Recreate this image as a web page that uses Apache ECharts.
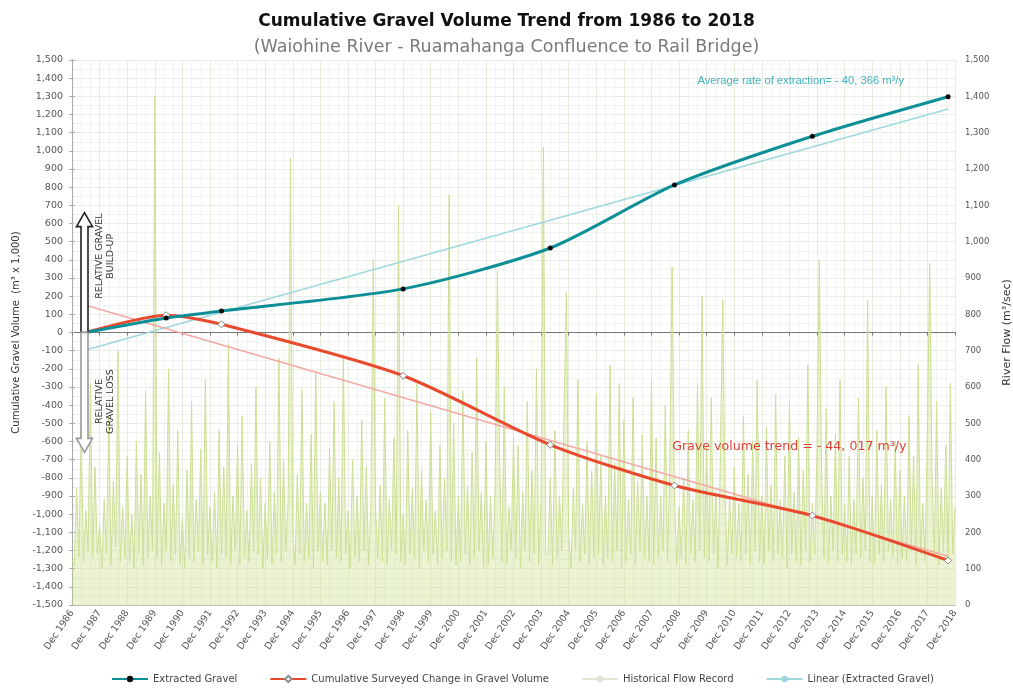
<!DOCTYPE html>
<html><head><meta charset="utf-8">
<script src="https://cdn.jsdelivr.net/npm/echarts@6/dist/echarts.min.js"></script>
<style>html,body{margin:0;padding:0;background:#fff}#c{width:1013px;height:690px}</style>
</head><body><div id="c"></div>
<script>
// ---- data ----
const surveyDates = ['1987-06','1990-05','1992-05','1998-12','2004-04','2008-10','2013-10','2018-09'];
const extractedGravel = [0, 80, 118, 240, 465, 812, 1080, 1298];
const surveyedChange = [0, 95, 45, -238, -618, -842, -1008, -1255];
const extractedTrend = [-96, 1230];
const surveyedTrend = [150, -1232];
// monthly flow (m3/sec), Dec 1986 .. Dec 2018
const flowRecord = [120,
 110,320,130,480,120,260,150,610,130,380,140,220,
 100,290,140,520,110,340,160,700,120,270,130,410,
 120,250,100,450,140,360,110,590,130,300,150,1400,
 130,420,110,280,150,650,120,330,140,480,110,240,
 100,370,130,560,120,290,150,430,110,620,140,270,
 120,310,100,480,140,380,130,720,110,300,150,440,
 110,520,130,260,120,390,150,600,140,350,100,280,
 130,450,110,310,140,680,120,400,150,290,1230,200,
 110,360,140,590,120,280,130,470,100,640,150,310,
 120,280,110,430,150,560,130,350,120,690,140,260,
 100,400,130,300,120,510,150,380,110,280,950,260,
 130,330,120,570,110,290,150,460,140,1100,120,250,
 110,480,140,320,130,610,100,370,150,290,120,530,
 140,260,110,440,130,350,150,1130,120,500,110,300,
 120,590,140,330,110,420,130,680,150,310,100,450,
 110,300,130,320,920,380,120,600,110,270,150,460,
 130,440,100,310,150,560,120,370,140,650,110,290,
 1260,140,140,350,110,480,130,300,150,540,860,200,
 100,320,150,620,120,280,140,450,110,370,130,580,
 140,410,110,300,130,660,120,390,150,610,100,510,
 120,290,140,570,110,340,150,470,130,300,120,620,
 110,460,130,300,150,550,120,380,930,300,110,270,
 130,350,110,480,140,290,120,610,150,850,130,440,
 120,570,140,310,100,420,840,300,110,300,140,380,
 130,280,120,520,140,360,110,450,150,620,120,300,
 110,490,150,330,120,580,140,290,130,410,100,560,
 140,310,120,460,110,370,150,660,120,280,140,430,
 950,360,130,540,110,300,150,470,120,620,140,280,
 120,410,110,290,140,570,130,350,150,840,120,300,
 110,480,140,330,120,600,150,290,130,450,110,370,
 130,300,120,520,150,410,110,660,140,280,120,490,
 940,350,130,560,110,320,150,440,120,610,140,270
];
// ---- helpers ----
function monthIndex(s){const p=s.split('-');return (Number(p[0])-1986)*12+(Number(p[1])-12);}
const surveyX = surveyDates.map(monthIndex);
const fmt = v => { const a=Math.abs(v); const s=a>=1000? Math.floor(a/1000)+','+String(a%1000).padStart(3,'0') : String(a); return (v<0?'-':'')+s; };
const FONT = '"DejaVu Sans", sans-serif';
const FONT2 = '"Liberation Sans", Arial, sans-serif';

const chart = echarts.init(document.getElementById('c'), null, {renderer:'canvas'});
const option = {
  animation:false,
  backgroundColor:'#fff',
  title:[
    {text:'Cumulative Gravel Volume Trend from 1986 to 2018', left:'center', top:8,
     textStyle:{fontFamily:FONT, fontSize:17, fontWeight:'bold', color:'#111'}},
    {text:'(Waiohine River - Ruamahanga Confluence to Rail Bridge)', left:'center', top:33,
     textStyle:{fontFamily:FONT, fontSize:17.5, fontWeight:'normal', color:'#7a7a7a'}}
  ],
  grid:{left:72, right:58, top:60, bottom:85, containLabel:false, outerBoundsMode:'none'},
  legend:{
    bottom:1, left:106, itemGap:32, itemWidth:36, itemHeight:8,
    textStyle:{fontFamily:FONT, fontSize:10, color:'#444'}
  },
  xAxis:[
    {type:'value', min:0, max:384, interval:12, position:'bottom',
     axisLine:{show:true, onZero:false, lineStyle:{color:'#bbb'}},
     axisTick:{show:false},
     axisLabel:{rotate:56, fontFamily:FONT, fontSize:9.5, color:'#555', margin:6,
       formatter:v=>'Dec '+(1986+v/12)},
     splitLine:{show:true, lineStyle:{color:'#e6ece0', width:1}},
     minorTick:{show:false, splitNumber:3},
     minorSplitLine:{show:true, lineStyle:{color:'#f1f4ee', width:1}}
    },
    {type:'value', min:0, max:384, interval:12, position:'bottom',
     axisLine:{show:true, onZero:true, onZeroAxisIndex:0, lineStyle:{color:'#777', width:1}},
     axisTick:{show:true, inside:false, length:3, lineStyle:{color:'#777'}},
     axisLabel:{show:false}, splitLine:{show:false}
    }
  ],
  yAxis:[
    {type:'value', min:-1500, max:1500, interval:100, position:'left',
     name:'Cumulative Gravel Volume  (m³ x 1,000)', nameLocation:'middle', nameRotate:90, nameGap:51,
     nameTextStyle:{fontFamily:FONT, fontSize:10, color:'#333'},
     axisLine:{show:true, lineStyle:{color:'#aaa'}},
     axisTick:{show:true, length:3, lineStyle:{color:'#aaa'}},
     axisLabel:{fontFamily:FONT, fontSize:9.5, color:'#555', formatter:fmt, margin:9},
     splitLine:{show:true, lineStyle:{color:'#e8ece4'}},
     minorSplitLine:{show:true, lineStyle:{color:'#f1f4ee'}}, minorTick:{show:false, splitNumber:2}
    },
    {type:'value', min:0, max:1500, interval:100, position:'right',
     name:'River Flow (m³/sec)', nameLocation:'middle', nameRotate:90, nameGap:47,
     nameTextStyle:{fontFamily:FONT, fontSize:11, color:'#333'},
     axisLine:{show:true, lineStyle:{color:'#aaa'}},
     axisTick:{show:true, length:3, lineStyle:{color:'#aaa'}},
     minorTick:{show:true, splitNumber:4, length:2, lineStyle:{color:'#bbb'}},
     axisLabel:{fontFamily:FONT, fontSize:8.5, color:'#555', formatter:fmt, margin:10},
     splitLine:{show:false}
    }
  ],
  series:[
    {name:'Historical Flow Record', type:'line', xAxisIndex:0, yAxisIndex:1, symbol:'none', z:1,
     lineStyle:{color:'#cddf95', width:1}, areaStyle:{color:'rgba(200,222,130,0.5)'},
     itemStyle:{color:'#dfe6d2'},
     data:flowRecord.map((v,i)=>[i,v])},
    {name:'Linear (Extracted Gravel)', type:'line', yAxisIndex:0, symbol:'none', z:3,
     lineStyle:{color:'#9fd8dc', width:1.5}, itemStyle:{color:'#9fd8dc'},
     data:[[surveyX[0],extractedTrend[0]],[surveyX[surveyX.length-1],extractedTrend[1]]]},
    {name:'Linear (Surveyed Change)', type:'line', yAxisIndex:0, symbol:'none', z:3,
     lineStyle:{color:'#f2a9a4', width:1.5}, itemStyle:{color:'#f2a9a4'},
     data:[[surveyX[0],surveyedTrend[0]],[surveyX[surveyX.length-1],surveyedTrend[1]]]},
    {name:'Extracted Gravel', type:'line', yAxisIndex:0, smooth:0.25, z:5,
     symbol:'circle', symbolSize:5,
     lineStyle:{color:'#0d8f98', width:3},
     itemStyle:{color:'#0a0a0a', borderColor:'#0a0a0a', borderWidth:0},
     data:surveyX.map((x,i)=>[x,extractedGravel[i]])},
    {name:'Cumulative Surveyed Change in Gravel Volume', type:'line', yAxisIndex:0, smooth:0.25, z:4,
     symbol:'diamond', symbolSize:7,
     lineStyle:{color:'#e94a2e', width:3},
     itemStyle:{color:'#ffffff', borderColor:'#8a8a8a', borderWidth:1},
     data:surveyX.map((x,i)=>[x,surveyedChange[i]])}
  ]
};
option.legend.data = [
  {name:'Extracted Gravel'},
  {name:'Cumulative Surveyed Change in Gravel Volume'},
  {name:'Historical Flow Record', itemStyle:{color:'#dfe6d2'}, lineStyle:{color:'#dfe6d2', width:2}},
  {name:'Linear (Extracted Gravel)'}
];
chart.setOption(option);

// ---- annotations placed through the axes ----
const P = (x,y)=>chart.convertToPixel({xAxisIndex:0,yAxisIndex:0},[x,y]);
const zero = P(5,0), up = P(5,660), dn = P(5,-660);
const cx = zero[0]+1;
function arrow(tip, base, dir, stroke){
  const hw=3.5, hh=8, hl=14;
  const neck = tip[1] + dir*hl;
  return {type:'polygon', z:10, shape:{points:[
    [cx-hw, base[1]],[cx-hw, neck],[cx-hh, neck],[cx, tip[1]],[cx+hh, neck],[cx+hw, neck],[cx+hw, base[1]]]},
    style:{fill:'#fff', stroke:stroke, lineWidth:1.6}};
}
chart.setOption({graphic:[
  arrow(up, zero, 1, '#222'),
  arrow(dn, zero, -1, '#999'),
  {type:'text', z:11, x:cx+21, y:P(0,420)[1], rotation:Math.PI/2,
   style:{text:'RELATIVE GRAVEL\nBUILD-UP', fill:'#333', font:'9.5px '+FONT, align:'center', verticalAlign:'middle', lineHeight:11}},
  {type:'text', z:11, x:cx+21, y:P(0,-380)[1], rotation:Math.PI/2,
   style:{text:'RELATIVE\nGRAVEL LOSS', fill:'#333', font:'9.5px '+FONT, align:'center', verticalAlign:'middle', lineHeight:11}},
  {type:'text', z:11, x:P(272,0)[0], y:P(0,1385)[1],
   style:{text:'Average rate of extraction= - 40, 366 m³/y', fill:'#3fb3bd', font:'11.2px '+FONT2, verticalAlign:'middle'}},
  {type:'text', z:11, x:P(261,0)[0], y:P(0,-630)[1],
   style:{text:'Grave volume trend = - 44, 017 m³/y', fill:'#e0403a', font:'12.6px '+FONT, verticalAlign:'middle'}}
]});
</script></body></html>
